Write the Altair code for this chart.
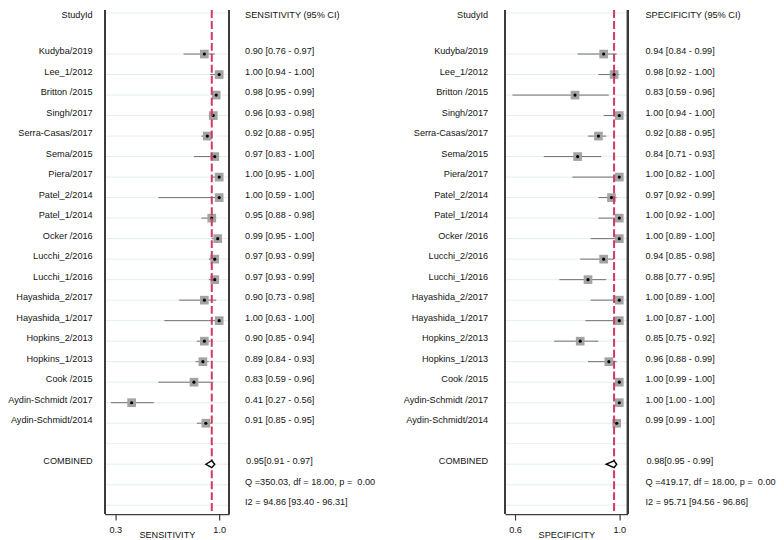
import altair as alt
import pandas as pd

studies = ["Kudyba/2019", "Lee_1/2012", "Britton /2015", "Singh/2017", "Serra-Casas/2017",
           "Sema/2015", "Piera/2017", "Patel_2/2014", "Patel_1/2014", "Ocker /2016",
           "Lucchi_2/2016", "Lucchi_1/2016", "Hayashida_2/2017", "Hayashida_1/2017",
           "Hopkins_2/2013", "Hopkins_1/2013", "Cook /2015", "Aydin-Schmidt /2017",
           "Aydin-Schmidt/2014"]
sens_est = [0.90, 1.00, 0.98, 0.96, 0.92, 0.97, 1.00, 1.00, 0.95, 0.99, 0.97, 0.97, 0.90, 1.00, 0.90, 0.89, 0.83, 0.41, 0.91]
sens_lo = [0.76, 0.94, 0.95, 0.93, 0.88, 0.83, 0.95, 0.59, 0.88, 0.95, 0.93, 0.93, 0.73, 0.63, 0.85, 0.84, 0.59, 0.27, 0.85]
sens_hi = [0.97, 1.00, 0.99, 0.98, 0.95, 1.00, 1.00, 1.00, 0.98, 1.00, 0.99, 0.99, 0.98, 1.00, 0.94, 0.93, 0.96, 0.56, 0.95]
spec_est = [0.94, 0.98, 0.83, 1.00, 0.92, 0.84, 1.00, 0.97, 1.00, 1.00, 0.94, 0.88, 1.00, 1.00, 0.85, 0.96, 1.00, 1.00, 0.99]
spec_lo = [0.84, 0.92, 0.59, 0.94, 0.88, 0.71, 0.82, 0.92, 0.92, 0.89, 0.85, 0.77, 0.89, 0.87, 0.75, 0.88, 0.99, 1.00, 0.99]
spec_hi = [0.99, 1.00, 0.96, 1.00, 0.95, 0.93, 1.00, 0.99, 1.00, 1.00, 0.98, 0.95, 1.00, 1.00, 0.92, 0.99, 1.00, 1.00, 1.00]
sens_comb = [0.95, 0.91, 0.97]
spec_comb = [0.98, 0.95, 0.99]
sens_stats = ["Q =350.03, df = 18.00, p = \u00a00.00", "I2 = 94.86 [93.40 - 96.31]"]
spec_stats = ["Q =419.17, df = 18.00, p = \u00a00.00", "I2 = 95.71 [94.56 - 96.86]"]
sens_ticks = [0.3, 1.0]
spec_ticks = [0.6, 1.0]
sens_domain = [0.228, 1.067]
spec_domain = [0.5617, 1.0318]

FONT = "Liberation Sans"
FS = 9.2
TXT = "#141414"
FRAME = "#3c3c3c"
H = 506
ROW_DOMAIN = [-0.146, 24.43]
study_rows = list(range(2, 21))
grid_rows = [0] + list(range(2, 25))
comb_row = 22
stat_rows = [23, 24]


def ycode():
    return alt.Y("row:Q", scale=alt.Scale(domain=ROW_DOMAIN, reverse=True, nice=False, zero=False), axis=None)


def text_layer(df, x, align, dy=0):
    return alt.Chart(df).mark_text(
        align=align, baseline="alphabetic", font=FONT, fontSize=FS, color=TXT, dy=dy
    ).encode(x=alt.value(x), y=ycode(), text="text:N")


def label_col(width, xr):
    body = pd.DataFrame({"row": study_rows + [comb_row], "text": studies + ["COMBINED"]})
    head = pd.DataFrame({"row": [0], "text": ["StudyId"]})
    return alt.layer(text_layer(body, xr, "right"), text_layer(head, xr, "right", dy=5)).properties(width=width, height=H)


def value_col(width, xl, est, lo, hi, comb, stats, head_text):
    body = pd.DataFrame({"row": study_rows,
                         "text": [f"{e:.2f} [{l:.2f} - {h:.2f}]" for e, l, h in zip(est, lo, hi)]})
    comb_df = pd.DataFrame({"row": [comb_row], "text": [f"{comb[0]:.2f}[{comb[1]:.2f} - {comb[2]:.2f}]"]})
    stat_df = pd.DataFrame({"row": stat_rows, "text": stats})
    head = pd.DataFrame({"row": [0], "text": [head_text]})
    return alt.layer(
        text_layer(body, xl, "left"),
        text_layer(comb_df, xl + 1, "left"),
        text_layer(stat_df, xl, "left"),
        text_layer(head, xl, "left", dy=5),
    ).properties(width=width, height=H)


def plot_col(width, est, lo, hi, comb, ticks, domain, title):
    sc = alt.Scale(domain=domain, nice=False, zero=False)
    ax = alt.Axis(values=ticks, format=".1f", title=title, grid=False, domainColor=FRAME,
                  domainWidth=1.2, tickColor=FRAME, tickSize=6, tickWidth=1.2, labelFont=FONT,
                  labelFontSize=FS, labelColor=TXT, labelPadding=6, labelFlush=False,
                  titleFont=FONT, titleFontSize=FS, titleFontWeight="normal", titleColor=TXT,
                  titlePadding=-4.5)

    def X(f):
        return alt.X(f"{f}:Q", scale=sc, axis=ax)

    df = pd.DataFrame({"row": study_rows, "est": est, "lo": lo, "hi": hi})
    grid = pd.DataFrame({"row": grid_rows})
    cdf = pd.DataFrame({"est": [comb[0]], "row": [comb_row]})
    dia = pd.DataFrame({"px": [comb[1], comb[0], comb[2]],
                        "row": [comb_row, comb_row - 0.17, comb_row],
                        "row2": [comb_row, comb_row + 0.17, comb_row]})

    g = alt.Chart(grid).mark_rule(color="#e4eeee", strokeWidth=1).encode(
        x=alt.value(0), x2=alt.value(width), y=ycode())
    frame_l = alt.Chart(grid).mark_rule(color=FRAME, strokeWidth=1.2).encode(
        x=alt.value(0), y=alt.value(0), y2=alt.value(H))
    frame_r = alt.Chart(grid).mark_rule(color=FRAME, strokeWidth=1.2).encode(
        x=alt.value(width), y=alt.value(0), y2=alt.value(H))
    ci = alt.Chart(df).mark_rule(color="#6e6e6e", strokeWidth=1).encode(
        x=X("lo"), x2="hi", y=ycode())
    sq = alt.Chart(df).mark_square(size=76, color="#a3a3a3", opacity=1).encode(x=X("est"), y=ycode())
    dot = alt.Chart(df).mark_circle(size=10, color="#000000", opacity=1).encode(x=X("est"), y=ycode())
    red = alt.Chart(cdf).mark_rule(color="#d4375f", strokeWidth=2, strokeDash=[8, 3]).encode(x=X("est"))
    diamond = alt.Chart(dia).mark_area(orient="vertical", fill="white", stroke="black",
                                       strokeWidth=1.4, opacity=1).encode(
        x=X("px"), y=ycode(), y2="row2")
    return alt.layer(g, frame_l, frame_r, ci, sq, dot, red, diamond).properties(width=width, height=H)


labL = label_col(97, 85)
plotL = plot_col(125, sens_est, sens_lo, sens_hi, sens_comb, sens_ticks, sens_domain, "SENSITIVITY")
valL = value_col(162, 16, sens_est, sens_lo, sens_hi, sens_comb, sens_stats, "SENSITIVITY (95% CI)")
labR = label_col(115, 98)
plotR = plot_col(123, spec_est, spec_lo, spec_hi, spec_comb, spec_ticks, spec_domain, "SPECIFICITY")
valR = value_col(146, 18, spec_est, spec_lo, spec_hi, spec_comb, spec_stats, "SPECIFICITY (95% CI)")

chart = alt.hconcat(labL, plotL, valL, labR, plotR, valR, spacing=0, bounds="flush").properties(
    padding=0
).resolve_scale(x="independent", y="independent").configure_view(stroke=None)

chart.save("out.html", embed_options={"renderer": "svg", "actions": False})
